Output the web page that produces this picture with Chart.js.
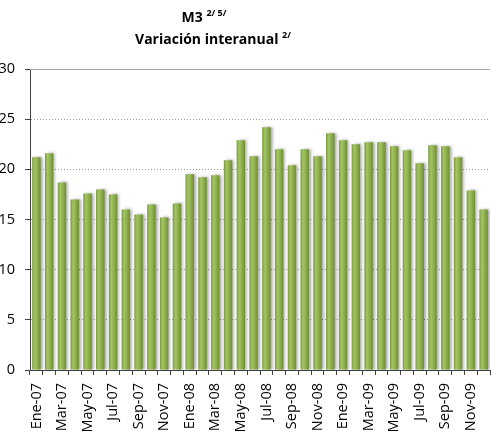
<!DOCTYPE html>
<html>
<head>
<meta charset="utf-8">
<script src="https://cdn.jsdelivr.net/npm/chart.js@4"></script>
<style>
  html, body { margin: 0; padding: 0; background: #fff; overflow: hidden; }
  #wrap { position: relative; width: 491px; height: 437px; }
  .title {
    position: absolute; left: 0; text-align: center; white-space: nowrap;
    font-family: "Open Sans", sans-serif; font-weight: bold; font-size: 14px;
    line-height: 20px; color: #000;
  }
  #t1 { top: 7px; width: 408px; }
  #t2 { top: 29px; width: 426px; }
  .title sup { font-size: 9px; line-height: 0; vertical-align: 6px; }
</style>
</head>
<body>
<div id="wrap">
  <canvas id="myCanvas" width="491" height="437"></canvas>
  <div class="title" id="t1">M3 <sup>2/ 5/</sup></div>
  <div class="title" id="t2">Variación interanual <sup>2/</sup></div>
</div>
<script>
const categories = [
  "Ene-07","Feb-07","Mar-07","Abr-07","May-07","Jun-07","Jul-07","Ago-07","Sep-07","Oct-07","Nov-07","Dic-07",
  "Ene-08","Feb-08","Mar-08","Abr-08","May-08","Jun-08","Jul-08","Ago-08","Sep-08","Oct-08","Nov-08","Dic-08",
  "Ene-09","Feb-09","Mar-09","Abr-09","May-09","Jun-09","Jul-09","Ago-09","Sep-09","Oct-09","Nov-09","Dic-09"
];
const m3Values = [
  21.2, 21.6, 18.7, 17.0, 17.6, 18.0, 17.5, 16.0, 15.5, 16.5, 15.2, 16.6,
  19.5, 19.2, 19.4, 20.9, 22.9, 21.3, 24.2, 22.0, 20.4, 22.0, 21.3, 23.6,
  22.9, 22.5, 22.7, 22.7, 22.3, 21.9, 20.6, 22.4, 22.3, 21.2, 17.9, 16.0
];
const yTicks = [0, 5, 10, 15, 20, 25, 30];

const barPct = 0.66;

// soft grey shadow on the right of each bar
const barShadow = {
  id: "barShadow",
  beforeDatasetsDraw(chart) {
    const c = chart.ctx;
    c.save();
    c.shadowColor = "rgba(0,0,0,0.35)";
    c.shadowOffsetX = 2;
    c.shadowOffsetY = 0;
    c.shadowBlur = 3;
  },
  afterDatasetsDraw(chart) {
    chart.ctx.restore();
  }
};

// solid line at the top of the plot area
const topFrame = {
  id: "topFrame",
  beforeDatasetsDraw(chart) {
    const {ctx, chartArea} = chart;
    ctx.save();
    ctx.strokeStyle = "#a6a6a6";
    ctx.lineWidth = 1;
    ctx.beginPath();
    ctx.moveTo(chartArea.left, Math.round(chartArea.top) + 0.5);
    ctx.lineTo(chartArea.right, Math.round(chartArea.top) + 0.5);
    ctx.stroke();
    ctx.restore();
  }
};

function barFill(context) {
  const chart = context.chart;
  const xs = chart.scales.x;
  if (!xs || context.dataIndex === undefined) return "#8fb350";
  const cx = xs.getPixelForValue(context.dataIndex);
  const w = (xs.width / categories.length) * barPct;
  if (!Number.isFinite(cx) || !Number.isFinite(w) || w <= 0) return "#8fb350";
  const g = chart.ctx.createLinearGradient(cx - w / 2, 0, cx + w / 2, 0);
  g.addColorStop(0, "#7a9a3c");
  g.addColorStop(0.3, "#a3c462");
  g.addColorStop(0.55, "#93b553");
  g.addColorStop(1, "#6f8e34");
  return g;
}

const ctx = document.getElementById("myCanvas").getContext("2d");
new Chart(ctx, {
  type: "bar",
  data: {
    labels: categories,
    datasets: [{
      data: m3Values,
      backgroundColor: barFill,
      borderWidth: 0,
      categoryPercentage: 1,
      barPercentage: barPct
    }]
  },
  options: {
    responsive: false,
    animation: false,
    layout: { padding: { top: 69, left: 0, right: 1, bottom: 0 } },
    plugins: { legend: { display: false }, tooltip: { enabled: false }, title: { display: false } },
    scales: {
      x: {
        afterFit(scale) {
          scale.height = 67;
          scale.paddingLeft = 0;
          scale.paddingRight = 0;
        },
        grid: {
          display: true, drawOnChartArea: false, offset: true,
          tickLength: 5, color: "#404040"
        },
        border: { display: true, color: "#404040", width: 1 },
        ticks: {
          autoSkip: false, minRotation: 90, maxRotation: 90, padding: 8,
          color: "#000", font: { family: "Open Sans", size: 14.5 },
          callback: (v, i) => (i % 2 === 0 ? categories[i] : "")
        }
      },
      y: {
        min: 0, max: 30,
        afterFit(scale) {
          scale.width = 30;
          scale.paddingTop = 0;
          scale.paddingBottom = 0;
        },
        afterBuildTicks(scale) { scale.ticks = yTicks.map(v => ({ value: v })); },
        grid: {
          color: "#9a9a9a", lineWidth: 1, tickLength: 5,
          tickColor: "#404040", drawTicks: true
        },
        border: { display: true, color: "#404040", width: 1, dash: [1, 2] },
        ticks: {
          padding: 10, color: "#000",
          font: { family: "Open Sans", size: 14.5 }
        }
      }
    }
  },
  plugins: [topFrame, barShadow]
});
</script>
</body>
</html>
